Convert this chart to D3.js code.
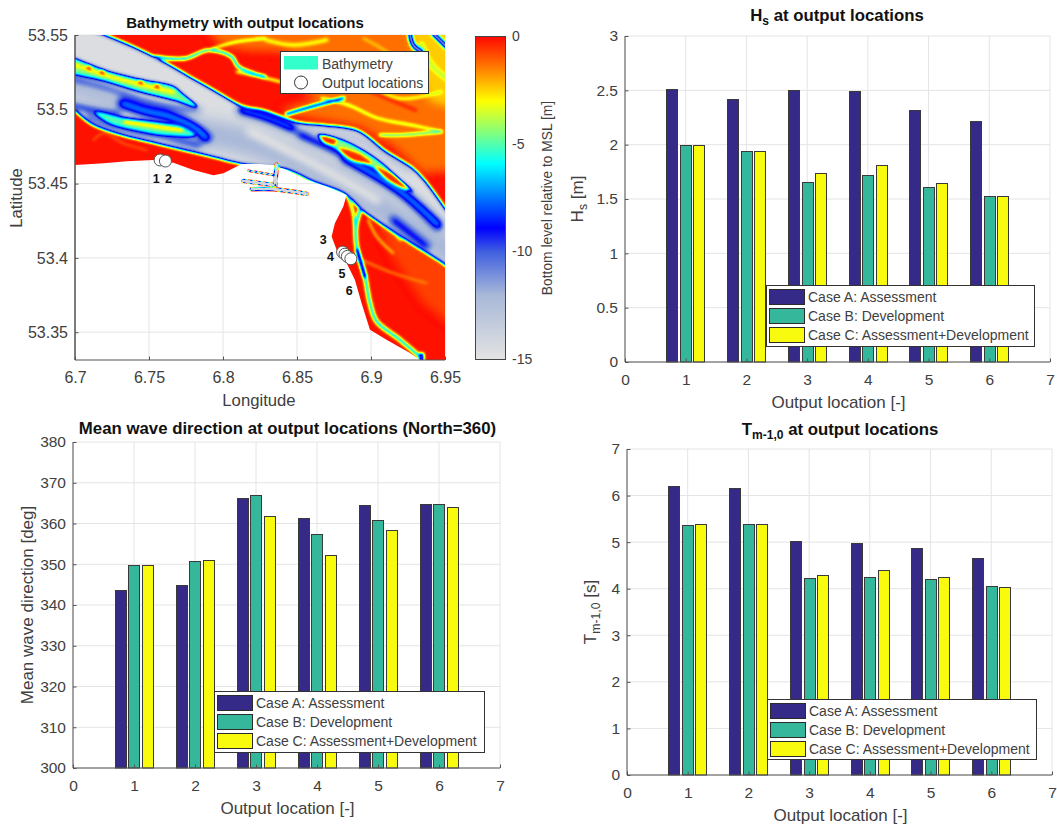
<!DOCTYPE html>
<html><head><meta charset="utf-8">
<script src="https://cdn.jsdelivr.net/npm/d3@7"></script>
<style>
html,body{margin:0;padding:0;background:#fff}
svg{display:block}
text{font-family:"Liberation Sans",Arial,sans-serif}
</style></head><body>
<svg id="c" width="1057" height="825"></svg>
<script>
// ---------- bar chart data ----------
const locations = [1,2,3,4,5,6];
const caseNames = ["Case A: Assessment","Case B: Development","Case C: Assessment+Development"];
const caseColors = ["#352a87","#35b79b","#f9fb0e"];
const hsA = [2.51,2.42,2.505,2.49,2.32,2.22];
const hsB = [2.0,1.94,1.66,1.72,1.61,1.525];
const hsC = [2.0,1.94,1.74,1.815,1.645,1.525];
const dirA = [343.7,344.8,366.3,361.3,364.5,364.8];
const dirB = [349.9,350.8,367.0,357.5,360.9,364.8];
const dirC = [349.9,351.0,361.8,352.2,358.4,364.1];
const tmA = [6.2,6.16,5.03,4.98,4.88,4.67];
const tmB = [5.36,5.38,4.22,4.26,4.2,4.05];
const tmC = [5.38,5.4,4.3,4.4,4.26,4.03];
// ---------- map data (lon, lat) ----------
const outputPoints = [[6.7575,53.4659],[6.7611,53.4652],[6.8808,53.4039],[6.8824,53.4025],[6.8840,53.4010],[6.8864,53.3994]];
const outputLabels = [[6.7548,53.4536],[6.7631,53.4536],[6.8678,53.4122],[6.8727,53.401],[6.8804,53.3893],[6.8853,53.3781]];
const wetArea = [[6.69,53.4626],[6.7001,53.4626],[6.7193,53.4637],[6.735,53.465],[6.753,53.4659],[6.7665,53.4641],[6.78,53.4592],[6.7935,53.4556],[6.8003,53.457],[6.8126,53.4632],[6.825,53.4632],[6.834,53.4626],[6.843,53.4592],[6.8565,53.4525],[6.87,53.448],[6.8835,53.4424],[6.8813,53.4346],[6.8756,53.4234],[6.8734,53.4144],[6.8768,53.4054],[6.8835,53.3965],[6.8891,53.3853],[6.8936,53.3696],[6.8993,53.3517],[6.9105,53.345],[6.9263,53.336],[6.933,53.3315],[6.96,53.32],[6.96,53.56],[6.69,53.56]];
const neFlat = [[6.7845,53.56],[6.96,53.56],[6.96,53.4592],[6.9353,53.457],[6.915,53.4749],[6.8925,53.4883],[6.852,53.495],[6.8385,53.4995],[6.8633,53.5074],[6.8543,53.513],[6.843,53.5387],[6.816,53.5398],[6.798,53.5432]];
const neBright = [[6.925,53.56],[6.96,53.56],[6.96,53.50],[6.94,53.505],[6.93,53.53]];
const seFlat = [[6.90,53.432],[6.925,53.415],[6.96,53.392],[6.96,53.35],[6.935,53.37],[6.915,53.40]];
const mainChannel = [[6.69,53.575],[6.7100,53.5535],[6.7193,53.5499],[6.7406,53.541],[6.7609,53.5309],[6.7766,53.5219],[6.7946,53.5118],[6.8126,53.5018],[6.8284,53.4984],[6.8509,53.4906],[6.8689,53.4888],[6.8914,53.485],[6.9094,53.4715],[6.9274,53.4603],[6.9353,53.4525],[6.9494,53.4334],[6.965,53.41],[6.965,53.385],[6.9494,53.3965],[6.9263,53.411],[6.8959,53.4312],[6.8824,53.4435],[6.8621,53.4514],[6.8419,53.4603],[6.8126,53.4637],[6.7901,53.4693],[6.7564,53.4771],[6.7294,53.4838],[6.7114,53.4906],[6.7001,53.4995],[6.685,53.51]];
const barA = [[6.685,53.5375],[6.7226,53.5253],[6.7451,53.5197],[6.7665,53.5152],[6.7721,53.5107],[6.7823,53.5018],[6.7676,53.5062],[6.7451,53.5118],[6.7226,53.5186],[6.685,53.5297]];
const barB = [[6.7136,53.498],[6.7339,53.4939],[6.7586,53.4906],[6.7721,53.4883],[6.7811,53.4827],[6.7609,53.4827],[6.7406,53.4861],[6.7226,53.4912]];
const barC = [[6.8644,53.4827],[6.8801,53.4794],[6.8959,53.4715],[6.9071,53.4637],[6.9184,53.4536],[6.9285,53.4446],[6.9116,53.4558],[6.8959,53.4637],[6.8779,53.4726]];
const barCBlobs = [
 [[6.8655,53.482],[6.8768,53.4794],[6.8745,53.476],[6.8678,53.4782]],
 [[6.8779,53.4738],[6.8914,53.4704],[6.9004,53.4637],[6.8869,53.4659]],
 [[6.9026,53.4614],[6.915,53.4558],[6.9251,53.4458],[6.9128,53.4514]]
];
const barARidge = [[6.695,53.5315],[6.7226,53.5225],[6.7451,53.5165],[6.7665,53.5115]];
const barBRidge = [[6.7339,53.4915],[6.7586,53.4878],[6.7721,53.486]];
const barASpots = [[6.7095,53.5278],[6.7185,53.5248],[6.7445,53.5182],[6.7555,53.5155]];
// channel centre lines with their width and core depth
const creeks = [
 {pts:[[6.7541,53.5354],[6.7744,53.5342],[6.7901,53.5398],[6.8059,53.5354],[6.8104,53.5286],[6.8284,53.5219]],d:-9,w:2.4},
 {pts:[[6.7901,53.5398],[6.8093,53.5454],[6.8284,53.5477]],d:-6,w:1.6},
 {pts:[[6.843,53.4968],[6.861,53.5022],[6.8813,53.5074]],d:-12,w:2.4},
 {pts:[[6.9263,53.551],[6.9285,53.5432],[6.9341,53.5387]],d:-13,w:3.6},
 {pts:[[6.942,53.551],[6.951,53.5421]],d:-13,w:3.6},
 {pts:[[6.8846,53.4413],[6.888,53.4301],[6.8891,53.4189]],d:-7,w:2},
 {pts:[[6.8936,53.4346],[6.8898,53.4211],[6.8907,53.4054],[6.8959,53.3875],[6.8993,53.3696],[6.9038,53.3573],[6.9195,53.345],[6.9341,53.3326]],d:-6.8,w:3.6},
 {pts:[[6.8907,53.4054],[6.8959,53.3875]],d:-12,w:3},
 {pts:[[6.9341,53.3345],[6.9341,53.3300]],d:-10,w:5}
];
const rivulets = [
 {pts:[[6.8666,53.5074],[6.8846,53.5029],[6.9049,53.4939],[6.9274,53.4894],[6.9476,53.485]],d:-5,w:2},
 {pts:[[6.8914,53.5208],[6.9184,53.5074],[6.9476,53.5118]],d:-4,w:2.4},
 {pts:[[6.9341,53.5432],[6.9409,53.5298],[6.951,53.5208]],d:-3.6,w:6},
 {pts:[[6.906,53.4827],[6.9206,53.4827],[6.9476,53.485]],d:-6.5,w:2.2},
 {pts:[[6.8295,53.5466],[6.8475,53.5432],[6.87,53.5466]],d:-3.2,w:4},
 {pts:[[6.8093,53.5253],[6.825,53.5219],[6.8385,53.5186]],d:-5,w:2},
 {pts:[[6.8981,53.4256],[6.9038,53.4144],[6.915,53.4032]],d:-3.4,w:1.8},
 {pts:[[6.8936,53.3987],[6.915,53.3898],[6.9375,53.383]],d:-2,w:1.8},
 {pts:[[6.906,53.4234],[6.915,53.4166],[6.9285,53.4122]],d:-2.6,w:1.8},
 {pts:[[6.7125,53.4794],[6.7193,53.4838],[6.7328,53.4771],[6.7485,53.4726]],d:-1.6,w:1.4},
 {pts:[[6.895,53.5477],[6.915,53.5353],[6.9263,53.5208]],d:-2.6,w:2.4},
 {pts:[[6.87,53.5285],[6.895,53.5145],[6.93,53.4995]],d:-0.4,w:4},
 {pts:[[6.8959,53.4312],[6.91,53.4222],[6.92,53.4122]],d:-3.4,w:3}
];
const paleBands = [
 {pts:[[6.775,53.486],[6.82,53.477],[6.87,53.455],[6.92,53.425],[6.96,53.40]],d:-12,w:26},
 {pts:[[6.69,53.518],[6.73,53.504],[6.775,53.492]],d:-12,w:16}
];
const deepPatches = [
 {pts:[[6.6950,53.5290],[6.7226,53.5215],[6.7451,53.5150]],d:-11,w:5},
 {pts:[[6.69,53.5226],[6.7226,53.5141],[6.7451,53.5062],[6.7676,53.5013],[6.7834,53.4995]],d:-7,w:4},
 {pts:[[6.7316,53.504],[6.7485,53.4984],[6.7643,53.495],[6.78,53.4883],[6.789,53.4805]],d:-6.5,w:9},
 {pts:[[6.69,53.5044],[6.7136,53.4991],[6.7294,53.4962]],d:-6,w:5},
 {pts:[[6.708,53.4946],[6.7294,53.4872],[6.7575,53.4816],[6.7845,53.4753]],d:-6,w:4},
 {pts:[[6.8126,53.4995],[6.8284,53.495],[6.8475,53.4872]],d:-7.5,w:11},
 {pts:[[6.8824,53.467],[6.9026,53.4558],[6.9229,53.4424],[6.9454,53.4222]],d:-7,w:11},
 {pts:[[6.852,53.4827],[6.87,53.4749],[6.888,53.4659]],d:-7.5,w:8},
 {pts:[[6.915,53.4256],[6.9375,53.4077]],d:-7.5,w:7},
 {pts:[[6.8509,53.4872],[6.87,53.485],[6.8925,53.4794],[6.915,53.4659],[6.9263,53.4592]],d:-12.5,w:6},
 {pts:[[6.8183,53.485],[6.8475,53.4704],[6.8768,53.4547],[6.9038,53.439]],d:-15,w:9}
];
const harbourArms = [
 {pts:[[6.8363,53.4626],[6.8351,53.448]],w:3.6},
 {pts:[[6.8194,53.4462],[6.834,53.4462],[6.8565,53.4431]],w:3.2},
 {pts:[[6.8138,53.4518],[6.834,53.4491]],w:3.2},
 {pts:[[6.8171,53.4587],[6.834,53.4558]],w:1.4}
];
const cbarTicks = [0,-5,-10,-15];
const depthStops = [0,-1.5,-3,-4.5,-5.9,-7.4,-8.9,-10,-12,-15];
const depthColors = ["#ff0800","#ff8000","#ffff00","#80ff80","#00ffff","#0080ff","#0000ff","#4060e0","#a8b8d8","#e3e3e3"];

const svg = d3.select("#c");
const TICK="#404040", AXIS="#555", GRID="#e4e4e4";
const depth = d3.scaleLinear().domain(depthStops).range(depthColors).clamp(true);
// the map is painted as a depth field in grey, softened, and then coloured with the depth scale
const fieldGrey = d3.scaleLinear().domain([0,-15]).range([0,255]).clamp(true);
const grey = d=>{const v=Math.round(fieldGrey(d));return `rgb(${v},${v},${v})`;};
const defs = svg.append("defs");
const samples = d3.range(0,129).map(i=>d3.rgb(depth(-15*i/128)));
function mkFilter(id,s,colour){
  const fl=defs.append("filter").attr("id",id).attr("filterUnits","userSpaceOnUse")
    .attr("x",0).attr("y",0).attr("width",1057).attr("height",825)
    .attr("color-interpolation-filters","sRGB");
  fl.append("feGaussianBlur").attr("stdDeviation",s);
  if(colour){
    const ct=fl.append("feComponentTransfer");
    [["feFuncR","r"],["feFuncG","g"],["feFuncB","b"]].forEach(([n,c])=>
      ct.append(n).attr("type","table").attr("tableValues",samples.map(q=>(q[c]/255).toFixed(3)).join(" ")));
  }
}
mkFilter("field",1.5,true);
mkFilter("harb",0.7,true);
mkFilter("inner",3,false);
mkFilter("wide",4,false);
mkFilter("pale",7,false);

function drawAxes(g,x,y,xVals,yVals,box){
  const gg=g.append("g");
  xVals.forEach(v=>gg.append("line").attr("x1",x(v)).attr("x2",x(v)).attr("y1",box.t).attr("y2",box.b).attr("stroke",GRID));
  yVals.forEach(v=>gg.append("line").attr("y1",y(v)).attr("y2",y(v)).attr("x1",box.l).attr("x2",box.r).attr("stroke",GRID));
}
function drawFrame(g,x,y,xVals,yVals,box,fmtY,fmtX,fs){
  const ax=g.append("g").attr("transform",`translate(0,${box.b})`)
    .call(d3.axisBottom(x).tickValues(xVals).tickSize(-3.5).tickPadding(12).tickFormat(fmtX||d3.format("d")));
  const ay=g.append("g").attr("transform",`translate(${box.l},0)`)
    .call(d3.axisLeft(y).tickValues(yVals).tickSize(-3.5).tickPadding(7).tickFormat(fmtY||(d=>d)));
  [ax,ay].forEach(a=>{
    a.selectAll("path").attr("stroke",AXIS);
    a.selectAll("line").attr("stroke",AXIS);
    a.selectAll("text").attr("fill",TICK).attr("font-size",fs||15.5).attr("font-family",'"Liberation Sans",Arial,sans-serif');
  });
  ax.select("path").attr("d",`M${box.l},0H${box.r}`);
  ay.select("path").attr("d",`M0,${box.t}V${box.b}`);
}
function title(g,cx,y,parts,size){
  const t=g.append("text").attr("x",cx).attr("y",y).attr("text-anchor","middle").attr("font-weight","bold").attr("font-size",size||16.8).attr("fill","#111");
  parts(t);
}
function sub(t,main,s,next){
  t.append("tspan").text(main);
  t.append("tspan").text(s).attr("font-size","0.72em").attr("dy",4);
  if(next) t.append("tspan").text(next).attr("dy",-4);
}

function barPanel(cfg){
  const g=svg.append("g"), box=cfg.box;
  const x=d3.scaleLinear().domain([0,7]).range([box.l,box.r]);
  const y=d3.scaleLinear().domain(cfg.dom).range([box.b,box.t]);
  const ticksX=d3.range(0,8), ticksY=cfg.ticks;
  drawAxes(g,x,y,ticksX,ticksY,box);
  const offs=[-0.225,0,0.22], bw=0.185;
  cfg.series.forEach((s,i)=>{
    g.append("g").selectAll("rect").data(s).join("rect")
      .attr("x",(d,j)=>Math.round(x(locations[j]+offs[i]-bw/2))+.5)
      .attr("width",Math.round(x(bw)-x(0)))
      .attr("y",d=>Math.round(y(d))+.5)
      .attr("height",d=>box.b-Math.round(y(d))-.5)
      .attr("fill",caseColors[i]).attr("stroke","#3a3a3a").attr("stroke-width",1);
  });
  drawFrame(g,x,y,ticksX,ticksY,box);
  g.append("text").attr("x",(box.l+box.r)/2+1).attr("y",box.b+46).attr("text-anchor","middle").attr("font-size",17).attr("fill",TICK).text("Output location [-]");
  const yl=g.append("text").attr("transform",`translate(${cfg.ylx},${(box.t+box.b)/2}) rotate(-90)`).attr("text-anchor","middle").attr("font-size",17).attr("fill",TICK);
  cfg.ylab(yl);
  title(g,cfg.tx,cfg.ty,cfg.title);
  const L=cfg.legend;
  g.append("rect").attr("x",L.x+.5).attr("y",L.y+.5).attr("width",L.w).attr("height",L.h).attr("fill","#fff").attr("stroke","#333");
  caseNames.forEach((n,i)=>{
    const py=L.y+3.5+i*19.3;
    g.append("rect").attr("x",L.x+3.5).attr("y",Math.round(py)+.5).attr("width",35).attr("height",15).attr("fill",caseColors[i]).attr("stroke","#2b2b2b");
    g.append("text").attr("x",L.x+42).attr("y",py+13).attr("font-size",14).attr("fill",TICK).text(n);
  });
}
barPanel({box:{l:625,r:1050,t:36,b:362},dom:[0,3],ticks:[0,.5,1,1.5,2,2.5,3],series:[hsA,hsB,hsC],
  ylx:583,ylab:t=>sub(t,"H","s"," [m]"),tx:837,ty:21,title:t=>sub(t,"H","s"," at output locations"),
  legend:{x:766,y:285,w:268,h:61}});
barPanel({box:{l:73,r:500,t:442,b:768},dom:[300,380],ticks:d3.range(300,381,10),series:[dirA,dirB,dirC],
  ylx:33,ylab:t=>t.text("Mean wave direction [deg]"),tx:287.5,ty:434,title:t=>t.text("Mean wave direction at output locations (North=360)"),
  legend:{x:214,y:691,w:270,h:61}});
barPanel({box:{l:627,r:1052,t:449,b:775},dom:[0,7],ticks:d3.range(0,8),series:[tmA,tmB,tmC],
  ylx:596,ylab:t=>sub(t,"T","m-1,0"," [s]"),tx:840,ty:435,title:t=>sub(t,"T","m-1,0"," at output locations"),
  legend:{x:767,y:699,w:269,h:60}});

// ---------- map ----------
(function(){
  const box={l:75,r:445,t:35,b:360};
  const g=svg.append("g");
  const x=d3.scaleLinear().domain([6.7,6.95]).range([box.l,box.r]);
  const y=d3.scaleLinear().domain([53.3313,53.55]).range([box.b,box.t]);
  const ticksX=[6.7,6.75,6.8,6.85,6.9,6.95], ticksY=[53.35,53.4,53.45,53.5,53.55];
  drawAxes(g,x,y,ticksX,ticksY,box);
  const line=d3.line().x(d=>x(d[0])).y(d=>y(d[1])).curve(d3.curveCatmullRom.alpha(.5));
  const closed=d3.line().x(d=>x(d[0])).y(d=>y(d[1])).curve(d3.curveCatmullRomClosed.alpha(.5));
  const poly=d3.line().x(d=>x(d[0])).y(d=>y(d[1])).curve(d3.curveLinearClosed);
  defs.append("clipPath").attr("id","cpBox").append("rect").attr("x",box.l).attr("y",box.t).attr("width",box.r-box.l).attr("height",box.b-box.t);
  defs.append("clipPath").attr("id","cpWet").append("path").attr("d",poly(wetArea));
  defs.append("clipPath").attr("id","cpMain").append("path").attr("d",closed(mainChannel));
  const outer=g.append("g").attr("clip-path","url(#cpBox)");
  const root=outer.append("g").attr("clip-path","url(#cpWet)");
  const f=root.append("g").attr("filter","url(#field)");
  const stroke=(sel,d,dep,w)=>sel.append("path").attr("d",d).attr("fill","none").attr("stroke",grey(dep)).attr("stroke-width",w).attr("stroke-linejoin","round").attr("stroke-linecap","round");
  const fill=(sel,d,dep)=>sel.append("path").attr("d",d).attr("fill",grey(dep));
  // tidal flats
  f.append("rect").attr("x",0).attr("y",0).attr("width",1057).attr("height",825).attr("fill",grey(-0.1));
  const soft=f.append("g").attr("filter","url(#wide)");
  fill(soft,poly(neFlat),-1.3);
  fill(soft,poly(neBright),-2.4);
  fill(soft,poly(seFlat),-0.7);
  rivulets.forEach(r=>stroke(f,line(r.pts),r.d,r.w));
  creeks.forEach(c=>stroke(f,line(c.pts),c.d,c.w));
  // main channel: depth variation is kept inside the banks
  const md=closed(mainChannel);
  fill(f,md,-14.6);
  const inside=f.append("g").attr("clip-path","url(#cpMain)");
  const pale=inside.append("g").attr("filter","url(#pale)");
  paleBands.forEach(p=>stroke(pale,line(p.pts),p.d,p.w));
  const deep=inside.append("g").attr("filter","url(#inner)");
  deepPatches.forEach(p=>stroke(deep,line(p.pts),p.d,p.w));
  stroke(f,md,-9.8,2.6);
  // sand bars
  const bar=(pts,edge,w,d)=>{const p=closed(pts);stroke(f,p,edge,w);fill(f,p,d);};
  bar(barA,-9.5,3,-4.6);
  stroke(f,line(barARidge),-2.4,3);
  barASpots.forEach(p=>f.append("circle").attr("cx",x(p[0])).attr("cy",y(p[1])).attr("r",2.6).attr("fill",grey(-0.6)));
  bar(barB,-9.5,4.4,-5);
  stroke(f,line(barBRidge),-2,3);
  bar(barC,-9,2.6,-4.4);
  barCBlobs.forEach(b=>fill(f,closed(b),-0.4));

  const h=outer.append("g").attr("filter","url(#harb)");
  harbourArms.forEach(a=>{
    const d=line(a.pts);
    stroke(h,d,-0.2,a.w+1.2);
    stroke(h,d,-14,a.w);
  });

  const fm=d=>d3.format(".4~f")(d);
  drawFrame(g,x,y,ticksX,ticksY,box,fm,fm,16);
  g.append("line").attr("x1",box.l).attr("x2",box.l).attr("y1",box.t).attr("y2",box.b).attr("stroke",AXIS);

  g.append("g").selectAll("circle").data(outputPoints).join("circle")
    .attr("cx",d=>x(d[0])).attr("cy",d=>y(d[1])).attr("r",6).attr("fill","#fff").attr("stroke","#555").attr("stroke-width",1);
  g.append("g").selectAll("text").data(outputLabels).join("text")
    .attr("x",d=>x(d[0])).attr("y",d=>y(d[1])+4.5).attr("text-anchor","middle").attr("font-weight","bold").attr("font-size",12.5).attr("fill","#111")
    .text((d,i)=>locations[i]);

  g.append("text").attr("x",259).attr("y",406).attr("text-anchor","middle").attr("font-size",16.7).attr("fill",TICK).text("Longitude");
  g.append("text").attr("transform",`translate(22,198) rotate(-90)`).attr("text-anchor","middle").attr("font-size",16.7).attr("fill",TICK).text("Latitude");
  title(g,245,28,t=>t.text("Bathymetry with output locations"),15);

  g.append("rect").attr("x",280.5).attr("y",51.5).attr("width",148).attr("height",42).attr("fill","#fff").attr("stroke","#333");
  g.append("rect").attr("x",284).attr("y",56).attr("width",34).attr("height",13.5).attr("fill","#33ffcc");
  g.append("circle").attr("cx",301).attr("cy",82.5).attr("r",6.5).attr("fill","#fff").attr("stroke","#333");
  g.append("text").attr("x",322).attr("y",68.5).attr("font-size",14).attr("fill",TICK).text("Bathymetry");
  g.append("text").attr("x",322).attr("y",87.5).attr("font-size",14).attr("fill",TICK).text("Output locations");

  const cb={l:475,r:505,t:36,b:359};
  const cy=d3.scaleLinear().domain([0,-15]).range([cb.t,cb.b]);
  const grad=defs.append("linearGradient").attr("id","cbar").attr("x1",0).attr("x2",0).attr("y1",0).attr("y2",1);
  depthStops.forEach((v,i)=>grad.append("stop").attr("offset",v/-15).attr("stop-color",depthColors[i]));
  g.append("rect").attr("x",cb.l+.5).attr("y",cb.t+.5).attr("width",cb.r-cb.l).attr("height",cb.b-cb.t).attr("fill","url(#cbar)").attr("stroke","#444");
  const ca=g.append("g").attr("transform",`translate(${cb.r},0)`).call(d3.axisRight(cy).tickValues(cbarTicks).tickSize(0).tickPadding(7).tickFormat(d=>d===0?"0":"-"+Math.abs(d)));
  ca.select("path").remove();
  ca.selectAll("text").attr("fill",TICK).attr("font-size",14).attr("font-family",'"Liberation Sans",Arial,sans-serif');
  g.append("text").attr("transform",`translate(552,198) rotate(-90)`).attr("text-anchor","middle").attr("font-size",13.8).attr("fill",TICK).text("Bottom level relative to MSL [m]");
})();
</script>
</body></html>
